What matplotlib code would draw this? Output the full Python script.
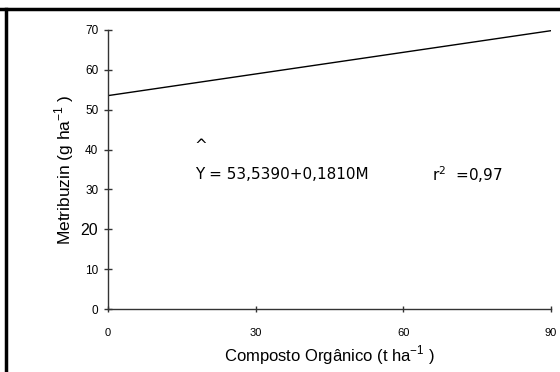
import matplotlib
matplotlib.use("Agg")
import matplotlib.pyplot as plt
from matplotlib.lines import Line2D
import numpy as np

plt.rcParams['font.family'] = ['Liberation Sans', 'DejaVu Sans']

x_ticks = [0, 30, 60, 90]
y_ticks = [0, 10, 20, 30, 40, 50, 60, 70]
intercept = 53.5390
slope = 0.1810
x_line = np.array([0, 90])
y_line = intercept + slope * x_line

fig = plt.figure(figsize=(5.6, 3.72), dpi=100)
ax = fig.add_axes([108/560, 1-309/372, (551-108)/560, (309-30)/372])
ax.plot(x_line, y_line, color='black', lw=1.0)
ax.set_xlim(0, 90)
ax.set_ylim(0, 70)
ax.set_xticks(x_ticks)
ax.set_yticks(y_ticks)
ax.set_xticklabels([str(v) for v in x_ticks], fontsize=8)
ax.set_yticklabels([str(v) for v in y_ticks], fontsize=8.5)
for lab in ax.get_yticklabels():
    if lab.get_text() == '20':
        lab.set_fontsize(11.5)
for s in ['top', 'right']:
    ax.spines[s].set_visible(False)
for s in ['left', 'bottom']:
    ax.spines[s].set_color('#333333')
    ax.spines[s].set_linewidth(1.0)
ax.tick_params(axis='x', direction='inout', length=5, width=1, color='#333333', pad=11)
ax.tick_params(axis='y', direction='inout', length=6, width=1, color='#333333', pad=4)
ax.set_xlabel('Composto Orgânico (t ha$^{\\mathregular{-1}}$ )', fontsize=12, labelpad=4)
ax.set_ylabel('Metribuzin (g ha$^{\\mathregular{-1}}$ )', fontsize=12.5, labelpad=3)

eq_font = ['DejaVu Sans']
ax.text(17.6, 41.0, '^', fontsize=11, ha='left', va='center', family=eq_font)
ax.text(17.6, 33.8, 'Y = 53,5390+0,1810M', fontsize=11, ha='left', va='center', family=eq_font)
ax.text(65.8, 33.8, 'r$^{2}$  =0,97', fontsize=11, ha='left', va='center', family=eq_font)

fig.add_artist(Line2D([0, 1], [1-8.5/372, 1-8.5/372], color='black', lw=2.5, transform=fig.transFigure))
fig.add_artist(Line2D([6/560, 6/560], [0, 1-8.5/372], color='black', lw=2.5, transform=fig.transFigure))

fig.savefig('out.png', dpi=100)
